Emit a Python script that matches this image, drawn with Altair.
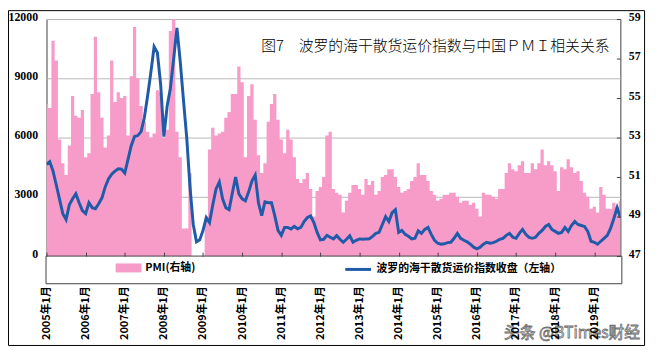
import altair as alt
import pandas as pd

# ---------------- data ----------------
pmi_2005 = [54.7, 54.5, 57.9, 56.9, 52.9, 51.7, 51.1, 52.6, 55.1, 54.1, 54.0, 54.4]
pmi_2006 = [52.0, 52.2, 55.2, 58.1, 55.3, 54.0, 52.5, 53.1, 56.9, 54.8, 55.3, 55.0]
pmi_2007 = [55.1, 53.1, 56.1, 58.6, 56.0, 54.6, 53.8, 53.3, 53.0, 53.2, 55.4, 55.3]
pmi_2008 = [53.0, 53.4, 58.4, 59.2, 53.3, 52.0, 48.4, 48.4, 51.2, 44.6, 38.8, 41.2]
pmi_2009 = [45.3, 49.0, 52.4, 53.5, 53.1, 53.2, 53.3, 54.0, 54.3, 55.2, 55.2, 56.6]
pmi_2010 = [55.8, 52.0, 55.1, 55.7, 53.9, 52.1, 51.2, 51.7, 53.8, 54.7, 55.2, 53.9]
pmi_2011 = [52.9, 52.2, 53.4, 52.9, 52.0, 50.9, 50.7, 50.9, 51.2, 50.4, 49.0, 50.3]
pmi_2012 = [50.5, 51.0, 53.1, 53.3, 50.4, 50.2, 50.1, 49.2, 49.8, 50.2, 50.6, 50.6]
pmi_2013 = [50.4, 50.1, 50.9, 50.6, 50.8, 50.1, 50.3, 51.0, 51.1, 51.4, 51.4, 51.0]
pmi_2014 = [50.5, 50.2, 50.3, 50.4, 50.8, 51.0, 51.7, 51.1, 51.1, 50.8, 50.3, 50.1]
pmi_2015 = [49.8, 49.9, 50.1, 50.1, 50.2, 50.2, 50.0, 49.7, 49.8, 49.8, 49.6, 49.7]
pmi_2016 = [49.4, 49.0, 50.2, 50.1, 50.1, 50.0, 49.9, 50.4, 50.4, 51.2, 51.7, 51.4]
pmi_2017 = [51.3, 51.6, 51.8, 51.2, 51.2, 51.7, 51.4, 51.7, 52.4, 51.6, 51.8, 51.6]
pmi_2018 = [51.3, 50.3, 51.5, 51.4, 51.9, 51.5, 51.2, 51.3, 50.8, 50.2, 50.0, 49.4]
pmi_2019 = [49.5, 49.2, 50.5, 50.1, 49.4, 49.4, 49.7, 49.5, 49.8]

bdi_2005 = [4650, 4780, 4300, 3600, 2870, 2150, 1850, 2600, 2900, 3150, 2700, 2300]
bdi_2006 = [2150, 2700, 2450, 2400, 2650, 2950, 3500, 3900, 4150, 4300, 4420, 4400]
bdi_2007 = [4200, 4900, 5600, 6050, 6100, 6300, 7000, 8100, 9300, 10600, 10300, 8700]
bdi_2008 = [6050, 7600, 8500, 10000, 11550, 9870, 7900, 6000, 3500, 1600, 720, 820]
bdi_2009 = [1300, 1950, 1700, 2600, 3400, 3750, 2900, 2450, 2350, 3200, 4000, 3150]
bdi_2010 = [2900, 2800, 3250, 3800, 4100, 2700, 2050, 2750, 2700, 2700, 2050, 1300]
bdi_2011 = [1050, 1450, 1450, 1370, 1500, 1380, 1450, 1750, 1950, 2030, 1700, 1200]
bdi_2012 = [820, 850, 1050, 950, 870, 1030, 850, 700, 850, 1030, 700, 800]
bdi_2013 = [870, 850, 870, 880, 1000, 1150, 1200, 1600, 2000, 1750, 2200, 2350]
bdi_2014 = [1200, 1300, 1100, 1000, 870, 900, 1280, 1150, 1350, 1450, 1100, 800]
bdi_2015 = [650, 600, 620, 680, 700, 900, 1150, 900, 800, 720, 600, 450]
bdi_2016 = [370, 450, 600, 700, 650, 680, 750, 850, 900, 1050, 1150, 950]
bdi_2017 = [900, 1150, 1350, 1100, 950, 900, 950, 1150, 1300, 1500, 1600, 1350]
bdi_2018 = [1250, 1150, 1200, 1450, 1250, 1550, 1750, 1600, 1550, 1500, 1250, 750]
bdi_2019 = [700, 600, 750, 900, 1050, 1400, 1900, 2450, 1950]

first_year = 2005
tick_months = [0, 12, 24, 36, 48, 60, 72, 84, 96, 108, 120, 132, 144, 156, 168]
left_ticks = [0, 3000, 6000, 9000, 12000]
right_ticks = [47, 49, 51, 53, 55, 57, 59]

TITLE = "图7　波罗的海干散货运价指数与中国ＰＭＩ相关关系"
PMI_LABEL = "PMI(右轴)"
BDI_LABEL = "波罗的海干散货运价指数收盘（左轴）"
WATERMARK = "头条 @BTimes财经"

pmi = (pmi_2005 + pmi_2006 + pmi_2007 + pmi_2008 + pmi_2009 + pmi_2010 + pmi_2011
       + pmi_2012 + pmi_2013 + pmi_2014 + pmi_2015 + pmi_2016 + pmi_2017 + pmi_2018 + pmi_2019)
bdi = (bdi_2005 + bdi_2006 + bdi_2007 + bdi_2008 + bdi_2009 + bdi_2010 + bdi_2011
       + bdi_2012 + bdi_2013 + bdi_2014 + bdi_2015 + bdi_2016 + bdi_2017 + bdi_2018 + bdi_2019)
months = list(range(len(pmi)))

df = pd.DataFrame({"m": months, "pmi": pmi, "bdi": bdi})
df["s_pmi"] = PMI_LABEL
df["s_bdi"] = BDI_LABEL

# ---------------- styling ----------------
W, H = 581, 240
PINK = "#f79bc9"
BLUE = "#1f5ba8"
CJK = "Noto Sans CJK SC"
NUM = "Liberation Serif"

x_scale = alt.Scale(domain=[0, len(pmi) - 1], nice=False, zero=False)
x_axis = alt.Axis(
    values=tick_months,
    labelExpr=f"(floor(datum.value / 12) + {first_year}) + '年1月'",
    labelAngle=270, labelFont=CJK, labelFontSize=11, labelFontWeight="bold",
    labelColor="black", labelPadding=30, grid=False, domain=False,
    ticks=True, tickSize=4, tickColor="#404040", offset=-4, zindex=1, title=None,
)

area = alt.Chart(df).mark_area(interpolate="step", clip=True, opacity=1).encode(
    x=alt.X("m:Q", scale=x_scale, axis=x_axis),
    y=alt.Y("pmi:Q", scale=alt.Scale(domain=[47, 59], nice=False, zero=False),
            axis=alt.Axis(orient="right", values=right_ticks, grid=False, domain=False,
                          ticks=True, tickSize=4, tickColor="#404040", offset=-4, zindex=1,
                          labelPadding=8, labelOffset=-3, labelFont=NUM, format="d",
                          labelFontWeight="bold", labelFontSize=12, labelColor="black",
                          title=None)),
    y2=alt.datum(47),
    fill=alt.Fill("s_pmi:N", scale=alt.Scale(domain=[PMI_LABEL], range=[PINK]),
                  legend=alt.Legend(title=None, orient="none", legendX=70, legendY=239,
                                    symbolType="M-1,-0.35H1V0.35H-1Z", symbolSize=676,
                                    symbolStrokeWidth=0, symbolOpacity=1,
                                    labelFont=CJK, labelFontSize=11, labelFontWeight="bold",
                                    labelColor="black", labelLimit=300, zindex=1)),
)

line = alt.Chart(df).mark_line(strokeWidth=3, clip=True).encode(
    x=alt.X("m:Q", scale=x_scale, axis=x_axis),
    y=alt.Y("bdi:Q", scale=alt.Scale(domain=[0, 12000], nice=False),
            axis=alt.Axis(orient="left", values=left_ticks, grid=True, gridColor="#b8b8b8",
                          domain=False, ticks=False, labelPadding=9, labelOffset=-3,
                          format="d", labelFont=NUM, labelFontWeight="bold",
                          labelFontSize=12, labelColor="black", title=None)),
    stroke=alt.Stroke("s_bdi:N", scale=alt.Scale(domain=[BDI_LABEL], range=[BLUE]),
                      legend=alt.Legend(title=None, orient="none", legendX=301, legendY=239,
                                        symbolType="stroke", symbolSize=676,
                                        symbolStrokeWidth=3,
                                        labelFont=CJK, labelFontSize=11,
                                        labelFontWeight="bold", labelColor="black",
                                        labelLimit=400, zindex=1)),
)

one = pd.DataFrame({"t": [TITLE]})
frame = alt.Chart(one).mark_rect(fill="white", fillOpacity=0, stroke="black",
                                 strokeWidth=1).encode(
    x=alt.value(-38.5), x2=alt.value(605.5), y=alt.value(-8.5), y2=alt.value(330.5))

legend_box = alt.Chart(one).mark_rect(fill="white", stroke="#404040",
                                      strokeWidth=1).encode(
    x=alt.value(-0.5), x2=alt.value(582.5), y=alt.value(240), y2=alt.value(268))

title = alt.Chart(one).mark_text(align="right", baseline="middle", font=CJK,
                                 fontSize=15, fontWeight=300, color="black").encode(
    x=alt.value(570), y=alt.value(27), text="t:N")

wm = alt.Chart(pd.DataFrame({"t": [WATERMARK]})).mark_text(
    align="right", baseline="middle", font=CJK, fontSize=16, fill="#f4f4f4",
    stroke="#6f6f6f", strokeWidth=0.8).encode(
    x=alt.value(601), y=alt.value(318), text="t:N")

chart = alt.layer(frame, area, line, legend_box, title, wm).resolve_scale(
    y="independent"
).properties(
    width=W, height=H,
    autosize=alt.AutoSizeParams(type="none"),
    padding={"left": 39, "top": 9, "right": 30, "bottom": 100},
    background="white",
).configure_view(stroke="#404040", strokeWidth=1)

chart.save("out.html", embed_options={"renderer": "svg", "actions": False})
